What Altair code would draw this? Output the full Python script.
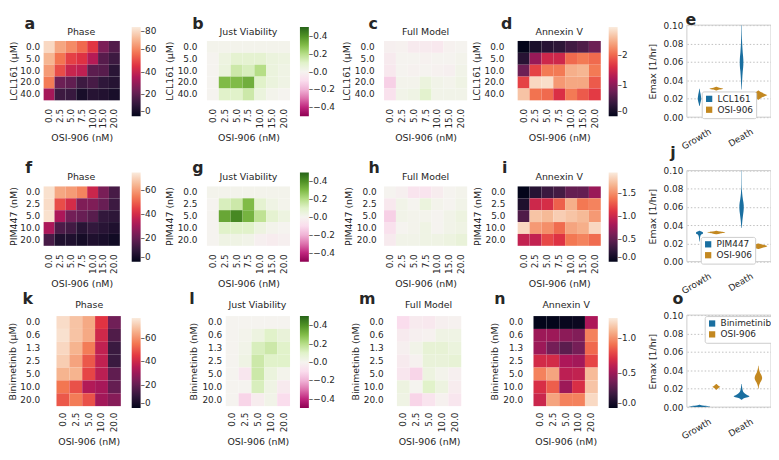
import altair as alt
import pandas as pd

FONT = "DejaVu Sans"
TXT = "#262626"
W, H = 771, 440
DY = {1: 2, 2: -5, 3: -13}


def sx(X):
    return X - 8


def sy(Y, r):
    return Y + DY[r] - 8


ROCKET = ["#03051a", "#35193e", "#701f57", "#ad1759", "#e13342", "#f37651", "#f6b48f", "#faebdd"]
BLUE, ORANGE = "#1a6fa0", "#c38820"

# ---------------- data ----------------
osi7 = ["0.0", "2.5", "5.0", "7.5", "10.0", "15.0", "20.0"]
osi5 = ["0.0", "2.5", "5.0", "10.0", "20.0"]
lcl_doses = ["0.0", "5.0", "10.0", "20.0", "40.0"]
pim_doses = ["0.0", "2.5", "5.0", "10.0", "20.0"]
bini_doses = ["0.0", "0.6", "1.3", "2.5", "5.0", "10.0", "20.0"]

lcl_phase = [
    [76, 66, 61, 55, 46, 25, 17],
    [69, 57, 48, 45, 36, 18, 13],
    [64, 50, 40, 38, 19, 18, 9],
    [58, 22, 20, 13, 15, 10, 8],
    [33, 13, 12, 5, 8, 7, 5],
]
lcl_viab = [
    [0.01, 0.01, 0.01, 0.01, 0.01, 0.01, 0.01],
    [0.0, 0.04, 0.08, 0.08, 0.08, 0.05, 0.04],
    [0.0, 0.05, 0.15, 0.12, 0.2, 0.05, 0.03],
    [0.0, 0.3, 0.3, 0.33, 0.1, 0.05, 0.03],
    [0.0, 0.1, 0.1, 0.15, 0.05, 0.01, 0.0],
]
lcl_full = [
    [-0.02, -0.01, -0.04, -0.04, -0.05, -0.01, 0.0],
    [-0.04, 0.0, 0.0, -0.01, 0.0, 0.0, 0.01],
    [-0.05, 0.0, -0.01, 0.0, -0.01, -0.02, 0.02],
    [-0.13, 0.01, 0.01, 0.05, 0.02, 0.01, 0.03],
    [-0.08, 0.02, 0.03, 0.09, 0.02, 0.02, 0.02],
]
lcl_annexin = [
    [0.0, 0.2, 0.3, 0.35, 0.5, 0.6, 0.8],
    [0.3, 1.1, 1.5, 1.5, 2.0, 2.1, 2.0],
    [0.8, 1.75, 2.1, 2.1, 2.45, 2.5, 2.1],
    [1.75, 2.75, 2.8, 2.3, 2.4, 2.4, 1.9],
    [2.6, 2.05, 2.0, 1.6, 2.1, 1.9, 1.7],
]

pim_phase = [
    [73, 62, 60, 56, 38, 23, 14],
    [72, 47, 40, 24, 24, 20, 12],
    [73, 32, 22, 20, 17, 10, 9],
    [32, 15, 13, 8, 10, 8, 6],
    [14, 6, 6, 4, 6, 5, 3],
]
pim_viab = [
    [0.01, 0.01, 0.01, 0.01, 0.01, 0.01, 0.01],
    [0.0, 0.12, 0.15, 0.3, 0.08, 0.03, 0.01],
    [0.0, 0.35, 0.42, 0.32, 0.18, 0.08, 0.04],
    [0.0, 0.1, 0.1, 0.1, 0.04, 0.01, 0.0],
    [0.0, 0.03, 0.03, 0.02, -0.02, -0.03, -0.02],
]
pim_full = [
    [0.0, -0.02, -0.07, -0.07, -0.03, 0.0, 0.01],
    [-0.05, 0.02, 0.0, 0.05, 0.01, 0.0, 0.02],
    [-0.13, 0.02, 0.01, 0.01, 0.0, 0.02, 0.04],
    [-0.08, 0.0, 0.01, 0.03, 0.0, 0.02, 0.03],
    [-0.04, 0.02, 0.02, 0.03, 0.03, 0.04, 0.06],
]
pim_annexin = [
    [0.0, 0.2, 0.3, 0.35, 0.5, 0.5, 0.75],
    [0.15, 1.0, 1.05, 1.3, 1.65, 1.4, 1.45],
    [0.4, 1.75, 1.7, 1.8, 1.75, 1.7, 1.55],
    [1.85, 1.55, 1.5, 1.35, 1.6, 1.65, 1.85],
    [0.95, 0.95, 1.2, 1.1, 1.4, 1.45, 1.35],
]

bini_phase = [
    [74, 69, 64, 44, 22],
    [75, 69, 64, 40, 16],
    [73, 66, 56, 37, 12],
    [71, 63, 50, 37, 12],
    [66, 66, 47, 36, 19],
    [55, 49, 34, 32, 20],
    [50, 56, 49, 31, 26],
]
bini_viab = [
    [0.0, 0.0, 0.0, 0.0, 0.0],
    [0.0, 0.01, 0.04, 0.1, 0.06],
    [0.0, 0.02, 0.12, 0.15, 0.1],
    [0.0, 0.03, 0.15, 0.1, 0.1],
    [0.0, -0.06, 0.15, 0.05, 0.01],
    [0.0, 0.0, 0.12, 0.03, -0.04],
    [0.0, -0.12, -0.03, 0.02, -0.1],
]
bini_full = [
    [-0.1, -0.04, -0.05, -0.02, -0.01],
    [-0.04, -0.02, -0.01, 0.03, 0.03],
    [-0.02, 0.02, 0.07, 0.07, 0.05],
    [-0.04, -0.01, 0.06, 0.06, 0.07],
    [-0.06, -0.12, 0.04, 0.01, -0.02],
    [0.04, 0.0, 0.1, 0.04, -0.03],
    [0.03, -0.12, -0.07, -0.01, -0.06],
]
bini_annexin = [
    [0.0, 0.0, 0.02, 0.03, 0.55],
    [0.5, 0.5, 0.45, 0.42, 0.95],
    [0.5, 0.38, 0.3, 0.38, 0.88],
    [0.68, 0.68, 0.55, 0.52, 0.78],
    [0.95, 1.05, 0.6, 0.62, 1.12],
    [0.7, 0.85, 0.5, 0.7, 1.15],
    [0.65, 1.05, 0.95, 0.95, 1.22],
]

# violin profiles: (category, drug, Emax values, relative half-widths)
violins_e = [
    ("Growth", "LCL161", [0.012, 0.015, 0.018, 0.020, 0.022, 0.025, 0.028, 0.031], [0.2, 0.8, 1.5, 1.8, 1.6, 1.2, 0.6, 0.2]),
    ("Growth", "OSI-906", [0.029, 0.030, 0.031, 0.032, 0.033], [0.3, 3, 7, 3, 0.3]),
    ("Death", "LCL161", [0.030, 0.040, 0.050, 0.057, 0.062, 0.070, 0.080, 0.090, 0.100], [0.2, 0.6, 1.2, 1.8, 1.8, 1.2, 0.6, 0.3, 0.2]),
    ("Death", "OSI-906", [0.019, 0.021, 0.023, 0.024, 0.025, 0.027, 0.029], [0.3, 3, 7, 9, 7, 3, 0.3]),
]
violins_j = [
    ("Growth", "PIM447", [0.022, 0.025, 0.028, 0.030, 0.031, 0.032, 0.033, 0.034], [0.2, 0.4, 0.8, 2, 3.5, 3.5, 2, 0.3]),
    ("Growth", "OSI-906", [0.030, 0.031, 0.032, 0.033, 0.034], [0.3, 4, 9, 4, 0.3]),
    ("Death", "PIM447", [0.037, 0.045, 0.052, 0.058, 0.062, 0.068, 0.075, 0.085, 0.100], [0.2, 0.8, 1.6, 2.2, 2.2, 1.4, 0.6, 0.2, 0.15]),
    ("Death", "OSI-906", [0.014, 0.0155, 0.017, 0.0185, 0.020], [0.3, 5, 9, 5, 0.3]),
]
violins_o = [
    ("Growth", "Binimetinib", [0.0, 0.0005, 0.001, 0.0015, 0.0025], [2, 8, 11, 5, 0.3]),
    ("Growth", "OSI-906", [0.019, 0.021, 0.022, 0.023, 0.025], [0.3, 2.5, 4, 2.5, 0.3]),
    ("Death", "Binimetinib", [0.008, 0.010, 0.011, 0.012, 0.013, 0.015, 0.018, 0.022, 0.025], [0.3, 3, 7, 8, 6, 3, 1.2, 0.5, 0.2]),
    ("Death", "OSI-906", [0.020, 0.024, 0.027, 0.030, 0.032, 0.035, 0.038, 0.042, 0.045], [0.2, 0.8, 2, 3.5, 3.8, 3, 1.5, 0.5, 0.2]),
]


# ---------------- helpers ----------------
def grid_df(rows, cols, mat):
    return pd.DataFrame(
        [{"r": r, "c": c, "v": v} for r, row in zip(rows, mat) for c, v in zip(cols, row)]
    )


def rocket(vmax):
    return alt.Scale(domain=[vmax * i / 7 for i in range(8)], range=ROCKET, interpolate="rgb")


def piyg():
    return alt.Scale(scheme="pinkyellowgreen", domain=[-0.5, 0.5])


def cbar(values, fmt, X, Y, row, length=90):
    return alt.Legend(
        orient="none", legendX=sx(X), legendY=sy(Y, row), direction="vertical",
        gradientLength=length, gradientThickness=9, gradientStrokeWidth=0,
        title=None, values=values, format=fmt, labelExpr="'\u2013' + datum.label",
        labelOffset=0, labelFontSize=9, labelBaseline="middle", labelOverlap=False, padding=0,
    )


def heatmap(rows, cols, mat, box, row, scale, ytitle, legend=None, ylabpad=7, ytitlepad=3, xlabpad=8):
    X0, X1, Y0, Y1 = box
    return alt.Chart(grid_df(rows, cols, mat)).mark_rect(strokeWidth=0).encode(
        x=alt.X("c:O", sort=cols,
                scale=alt.Scale(range=[sx(X0), sx(X1)], paddingInner=0, paddingOuter=0),
                axis=alt.Axis(orient="bottom", offset=sy(Y1, row) - H, title="OSI-906 (nM)",
                              labelAngle=270, labelAlign="right", labelBaseline="middle",
                              labelPadding=xlabpad, ticks=False, domain=False, grid=False,
                              titlePadding=5)),
        y=alt.Y("r:O", sort=rows,
                scale=alt.Scale(range=[sy(Y0, row), sy(Y1, row)], paddingInner=0, paddingOuter=0),
                axis=alt.Axis(orient="left", offset=-sx(X0), title=ytitle, labelPadding=ylabpad,
                              titlePadding=ytitlepad, ticks=False, domain=False, grid=False,
                              minExtent=0)),
        color=alt.Color("v:Q", scale=scale, legend=legend),
    )


def text(t, X, Y, size=9.5, weight="normal", baseline="middle"):
    return alt.Chart(pd.DataFrame({"t": [t]})).mark_text(
        fontSize=size, fontWeight=weight, font=FONT, color=TXT, align="center", baseline=baseline
    ).encode(text="t:N", x=alt.value(X), y=alt.value(Y))


def violin_panel(drug, profiles, X0, X1, Ytop, Ybot, row, LX, LY):
    recs = []
    for cat, drg, vals, widths in profiles:
        for v, w in zip(vals, widths):
            recs.append({"cat": cat, "drug": drg, "vid": cat + drg, "v": v, "w": w})
    df = pd.DataFrame(recs)
    xs = alt.Scale(domain=[-0.5, 1.5], range=[sx(X0), sx(X1)], nice=False, zero=False)
    ys = alt.Scale(domain=[0, 0.1], range=[sy(Ybot, row), sy(Ytop, row)], nice=False, zero=False)
    area = alt.Chart(df).transform_calculate(
        idx="datum.cat == 'Growth' ? 0 : 1",
        off=f"datum.drug == '{drug}' ? -0.2 : 0.2",
    ).transform_calculate(
        xl="datum.idx + datum.off - datum.w / 42.5",
        xr="datum.idx + datum.off + datum.w / 42.5",
    ).mark_area(orient="horizontal", interpolate="monotone").encode(
        y=alt.Y("v:Q", scale=ys,
                axis=alt.Axis(orient="left", offset=-sx(X0), values=[0, 0.02, 0.04, 0.06, 0.08, 0.1],
                              format=".2f", grid=True, gridDash=[1.5, 2], gridColor="#b0b0b0",
                              gridWidth=0.8, ticks=False, domain=False, labelPadding=4,
                              title="Emax [1/hr]", titlePadding=6, minExtent=0)),
        x=alt.X("xl:Q", scale=xs,
                axis=alt.Axis(orient="bottom", offset=sy(Ybot, row) - H, values=[0, 1],
                              labelExpr="datum.value == 0 ? 'Growth' : 'Death'",
                              labelAngle=330, labelAlign="right", labelBaseline="top",
                              labelPadding=10, ticks=False, domain=False, grid=False, title=None)),
        x2="xr:Q",
        color=alt.Color("drug:N", scale=alt.Scale(domain=[drug, "OSI-906"], range=[BLUE, ORANGE]),
                        legend=alt.Legend(orient="none", legendX=sx(LX), legendY=sy(LY, row),
                                          title=None, symbolType="square", symbolSize=40,
                                          symbolStrokeWidth=0, fillColor="white",
                                          strokeColor="#cccccc", padding=3, cornerRadius=2,
                                          rowPadding=1, labelFontSize=9, labelOffset=4)),
        detail="vid:N",
    )
    frame = alt.Chart(pd.DataFrame({"f": [0]})).mark_rect(
        fillOpacity=0, stroke="#cccccc", strokeWidth=1
    ).encode(x=alt.value(sx(X0)), x2=alt.value(sx(X1)), y=alt.value(sy(Ytop, row)), y2=alt.value(sy(Ybot, row)))
    return alt.layer(frame, area)


def letter(t, X, Y, row):
    return text(t, sx(X), sy(Y, row), 16, "bold", "alphabetic")


layers = []

# ---------- row 1 ----------
r = 1
layers += [
    heatmap(lcl_doses, osi7, lcl_phase, (44, 121, 37, 97), r, rocket(80), "LCL161 (\u03bcM)",
            cbar([0, 20, 40, 60, 80], "d", 133, 23, r), ylabpad=4, ytitlepad=1),
    heatmap(lcl_doses, osi7, lcl_viab, (209, 293, 37, 97), r, piyg(), "LCL161 (\u03bcM)",
            cbar([-0.4, -0.2, 0, 0.2, 0.4], ".1f", 303, 23, r), ylabpad=10),
    heatmap(lcl_doses, osi7, lcl_full, (388, 472, 37, 97), r, piyg(), "LCL161 (\u03bcM)", None, ylabpad=10),
    heatmap(lcl_doses, osi7, lcl_annexin, (523, 607, 37, 97), r, rocket(2.9), "LCL161 (\u03bcM)",
            cbar([0, 1, 2], "d", 615, 23, r), ylabpad=14),
    violin_panel("LCL161", violins_e, 694, 779, 21, 114, r, 709, 88),
    text("Phase", sx(82), sy(28, r)), text("Just Viability", sx(251), sy(28, r)),
    text("Full Model", sx(430), sy(28, r)), text("Annexin V", sx(565), sy(28, r)),
    letter("a", 30, 25, r), letter("b", 200, 25, r), letter("c", 377, 25, r),
    letter("d", 512, 25, r), letter("e", 698, 21, r),
]

# ---------- row 2 ----------
r = 2
layers += [
    heatmap(pim_doses, osi7, pim_phase, (44, 121, 191, 251), r, rocket(75), "PIM447 (nM)",
            cbar([0, 20, 40, 60], "d", 133, 177, r), ylabpad=4, ytitlepad=1),
    heatmap(pim_doses, osi7, pim_viab, (209, 293, 191, 251), r, piyg(), "PIM447 (nM)",
            cbar([-0.4, -0.2, 0, 0.2, 0.4], ".1f", 303, 177, r), ylabpad=10),
    heatmap(pim_doses, osi7, pim_full, (388, 472, 191, 251), r, piyg(), "PIM447 (nM)", None, ylabpad=8),
    heatmap(pim_doses, osi7, pim_annexin, (523, 607, 191, 251), r, rocket(1.95), "PIM447 (nM)",
            cbar([0, 0.5, 1.0, 1.5], ".1f", 615, 177, r), ylabpad=13),
    violin_panel("PIM447", violins_j, 694, 779, 175, 267, r, 708, 242),
    text("Phase", sx(82), sy(182, r)), text("Just Viability", sx(251), sy(182, r)),
    text("Full Model", sx(430), sy(182, r)), text("Annexin V", sx(565), sy(182, r)),
    letter("f", 29, 177, r), letter("g", 200, 177, r), letter("h", 378, 177, r),
    letter("i", 510, 177, r), letter("j", 680, 162, r),
]

# ---------- row 3 ----------
r = 3
layers += [
    heatmap(bini_doses, osi5, bini_phase, (57, 122, 330, 421), r, rocket(77), "Binimetinib (\u03bcM)",
            cbar([0, 20, 40, 60], "d", 133, 332, r, 91), ylabpad=17, ytitlepad=2, xlabpad=6),
    heatmap(bini_doses, osi5, bini_viab, (228, 293, 330, 421), r, piyg(), "Binimetinib (nM)",
            cbar([-0.4, -0.2, 0, 0.2, 0.4], ".1f", 303, 330, r, 93), ylabpad=4, xlabpad=6),
    heatmap(bini_doses, osi5, bini_full, (401, 466, 330, 421), r, piyg(), "Binimetinib (nM)", None,
            ylabpad=14, xlabpad=6),
    heatmap(bini_doses, osi5, bini_annexin, (539, 604, 330, 421), r, rocket(1.28), "Binimetinib (nM)",
            cbar([0, 0.5, 1.0], ".1f", 615, 332, r, 91), ylabpad=11, xlabpad=6),
    violin_panel("Binimetinib", violins_o, 694, 779, 329, 422, r, 712, 330),
    text("Phase", sx(90), sy(319, r)), text("Just Viability", sx(260), sy(319, r)),
    text("Full Model", sx(433), sy(319, r)), text("Annexin V", sx(572), sy(319, r)),
    letter("k", 28, 318, r), letter("l", 194, 318, r), letter("m", 371, 318, r),
    letter("n", 505, 318, r), letter("o", 685, 318, r),
]

chart = (
    alt.layer(*layers)
    .resolve_scale(x="independent", y="independent", color="independent")
    .resolve_axis(x="independent", y="independent")
    .resolve_legend(color="independent")
    .properties(width=W, height=H, autosize=alt.AutoSizeParams(type="none"), padding=0)
    .configure_view(stroke=None)
    .configure_axis(labelFont=FONT, titleFont=FONT, labelColor=TXT, titleColor=TXT,
                    labelFontSize=9, titleFontSize=9.5, titleFontWeight="normal")
    .configure_legend(labelFont=FONT, labelColor=TXT)
)

chart.save("out.html", embed_options={"renderer": "svg", "actions": False})
